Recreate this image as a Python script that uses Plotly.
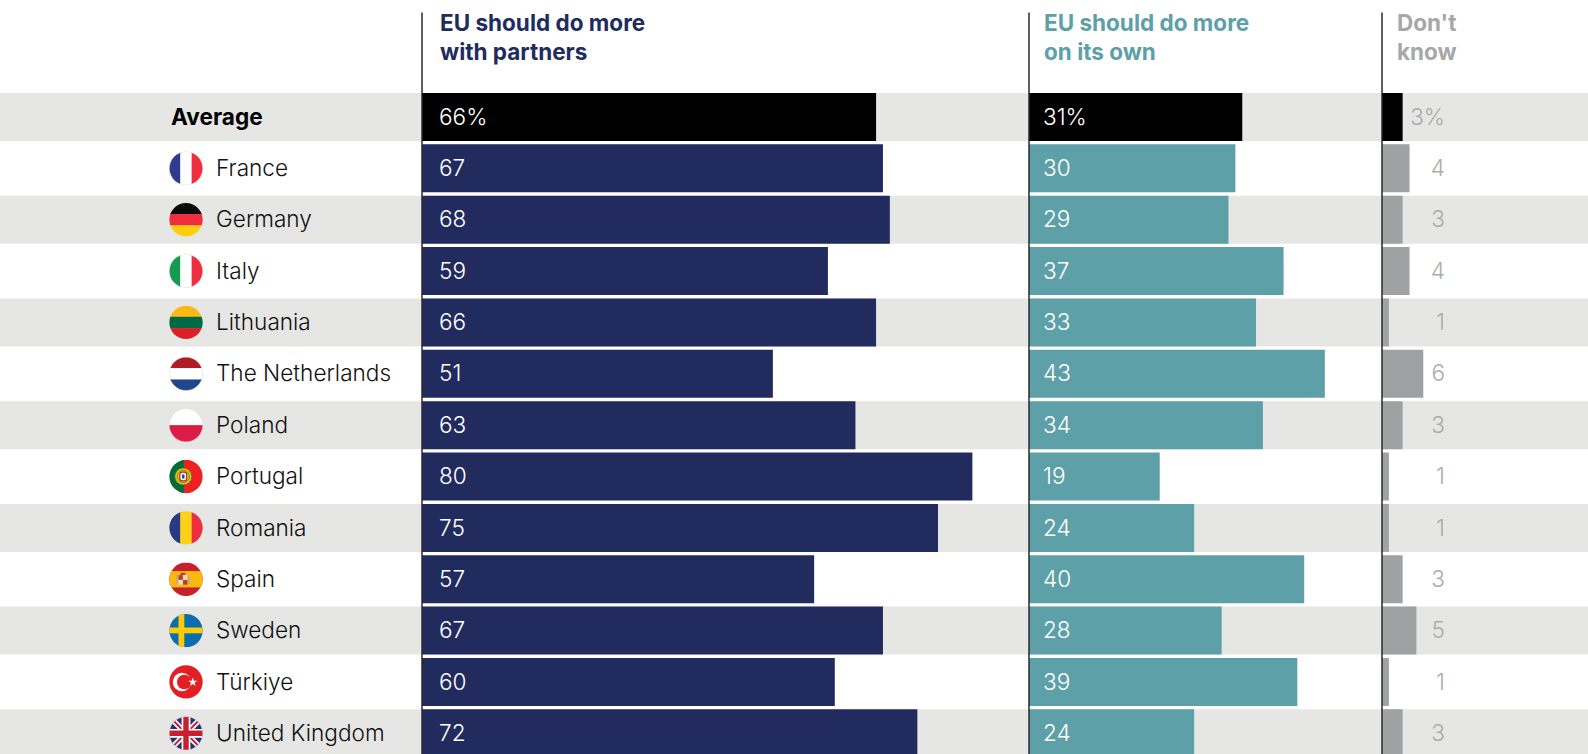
import base64
import plotly.graph_objects as go

# ---- data -------------------------------------------------------------
countries = ["Average", "France", "Germany", "Italy", "Lithuania", "The Netherlands", "Poland",
             "Portugal", "Romania", "Spain", "Sweden", "Türkiye", "United Kingdom"]
with_partners = [66, 67, 68, 59, 66, 51, 63, 80, 75, 57, 67, 60, 72]
on_its_own = [31, 30, 29, 37, 33, 43, 34, 19, 24, 40, 28, 39, 24]
dont_know = [3, 4, 3, 4, 1, 6, 3, 1, 1, 3, 5, 1, 3]
headers = ["EU should do more<br>with partners", "EU should do more<br>on its own", "Don't<br>know"]

# ---- layout constants (pixels of the 1588x754 page) -------------------
W, H = 1588, 754
FONT = "Inter"
TEXT_SIZE, HEAD_SIZE = 22.6, 22.5
NAVY, TEAL, GREY, BLACK = "#212B5E", "#5DA0A8", "#A0A1A3", "#000000"
BAND, LABEL_GREY, INK = "#E6E6E5", "#ABABAB", "#111111"
PX_PER_UNIT = 6.88
X1, X2, X3 = 422, 1029, 1382
ROW0, PITCH, BAR_H = 117, 51.36, 48
FLAG_D, FLAG_X = 34, 186
TEXT_DROP = 2.0

def svg_uri(body, outline="#D9D2CB"):
    svg = ('<svg xmlns="http://www.w3.org/2000/svg" viewBox="0 0 100 100" width="200" height="200">'
           '<defs><clipPath id="c"><circle cx="50" cy="50" r="49"/></clipPath></defs>'
           f'<g clip-path="url(#c)">{body}</g>'
           f'<circle cx="50" cy="50" r="49" fill="none" stroke="{outline}" stroke-width="1.2"/></svg>')
    return "data:image/svg+xml;base64," + base64.b64encode(svg.encode()).decode()

def vbands(a, b, c):
    return (f'<rect x="0" y="0" width="34" height="100" fill="{a}"/>'
            f'<rect x="33.3" y="0" width="34" height="100" fill="{b}"/>'
            f'<rect x="66.6" y="0" width="34" height="100" fill="{c}"/>')

def hbands(a, b, c):
    return (f'<rect x="0" y="0" width="100" height="34" fill="{a}"/>'
            f'<rect x="0" y="33.3" width="100" height="34" fill="{b}"/>'
            f'<rect x="0" y="66.6" width="100" height="34" fill="{c}"/>')

flags = {
    "France": svg_uri(vbands("#2E3B8E", "#FFFFFF", "#EE2E3C")),
    "Germany": svg_uri(hbands("#0A0A0A", "#EE2E3C", "#FFCC0E"), "none"),
    "Italy": svg_uri(vbands("#149A52", "#FFFFFF", "#EE2E3C")),
    "Lithuania": svg_uri(hbands("#FDB913", "#006A44", "#DC1F26"), "none"),
    "The Netherlands": svg_uri(hbands("#AE1C28", "#FFFFFF", "#21468B")),
    "Poland": svg_uri('<rect width="100" height="50" fill="#FFFFFF"/>'
                      '<rect y="50" width="100" height="50" fill="#DC1C44"/>', "#E8C4CC"),
    "Portugal": svg_uri('<rect width="44" height="100" fill="#046A38"/>'
                        '<rect x="44" width="56" height="100" fill="#EE2024"/>'
                        '<circle cx="42" cy="50" r="25" fill="#E2C21A" stroke="#3C7A2E" stroke-width="2"/>'
                        '<circle cx="42" cy="50" r="18" fill="none" stroke="#4E7A2A" stroke-width="2"/>'
                        '<rect x="32" y="37" width="20" height="26" rx="7" fill="#FFFFFF" stroke="#C8202A" stroke-width="3.5"/>'
                        '<rect x="38.5" y="44" width="7" height="12" fill="#27408B"/>', "none"),
    "Romania": svg_uri(vbands("#2A3A80", "#FCD116", "#EE2E3C"), "none"),
    "Spain": svg_uri('<rect width="100" height="100" fill="#C6202A"/>'
                     '<rect y="26" width="100" height="48" fill="#F9B90F"/>'
                     '<rect x="21" y="38" width="5" height="26" fill="#C9A68A"/>'
                     '<rect x="56" y="38" width="5" height="26" fill="#C9A68A"/>'
                     '<rect x="34" y="31" width="14" height="7" fill="#A8452F"/>'
                     '<rect x="28" y="38" width="13" height="14" fill="#B8402F"/>'
                     '<rect x="41" y="38" width="13" height="14" fill="#E6DCC8"/>'
                     '<rect x="28" y="52" width="13" height="14" fill="#E6DCC8"/>'
                     '<rect x="41" y="52" width="13" height="14" fill="#B8402F"/>', "none"),
    "Sweden": svg_uri('<rect width="100" height="100" fill="#0A6EAE"/>'
                      '<rect x="28" width="17" height="100" fill="#FECC00"/>'
                      '<rect y="41" width="100" height="17" fill="#FECC00"/>', "none"),
    "Türkiye": svg_uri('<rect width="100" height="100" fill="#E31E24"/>'
                       '<circle cx="38" cy="50" r="27" fill="#FFFFFF"/>'
                       '<circle cx="45" cy="50" r="21.5" fill="#E31E24"/>'
                       '<polygon fill="#FFFFFF" points="70,37 73.2,46.6 83.3,46.6 75.2,52.6 78.2,62.2 70,56.3 61.8,62.2 64.8,52.6 56.7,46.6 66.8,46.6"/>', "none"),
    "United Kingdom": svg_uri('<rect width="100" height="100" fill="#28306E"/>'
                              '<path d="M0 0L100 100M100 0L0 100" stroke="#FFFFFF" stroke-width="16"/>'
                              '<path d="M0 0L100 100M100 0L0 100" stroke="#C8202F" stroke-width="6"/>'
                              '<path d="M50 0V100M0 50H100" stroke="#FFFFFF" stroke-width="26"/>'
                              '<path d="M50 0V100M0 50H100" stroke="#C8202F" stroke-width="16"/>'),
}

# ---- figure -----------------------------------------------------------
fig = go.Figure()
bar_width = BAR_H / PITCH
y_range = [(H - ROW0) / PITCH, -ROW0 / PITCH]
text_y_range = [(H - ROW0 - TEXT_DROP) / PITCH, -(ROW0 + TEXT_DROP) / PITCH]

def add_panel(values, axis, colour, labels, label_x, label_pos, label_colours):
    fig.add_trace(go.Bar(y=countries, x=values, orientation="h", xaxis=axis, yaxis="y",
                         width=bar_width, marker=dict(color=[BLACK] + [colour] * (len(values) - 1), line_width=0),
                         showlegend=False, hoverinfo="skip"))
    fig.add_trace(go.Scatter(y=countries, x=[label_x] * len(values), xaxis=axis, yaxis="y2", mode="text",
                             text=labels, textposition=label_pos, cliponaxis=False, showlegend=False,
                             textfont=dict(family=FONT, size=TEXT_SIZE, weight=300, color=label_colours),
                             hoverinfo="skip"))

def fmt(values):
    return [f"{v}%" if i == 0 else str(v) for i, v in enumerate(values)]

add_panel(with_partners, "x", NAVY, fmt(with_partners), 17 / PX_PER_UNIT, "middle right", "#FFFFFF")
add_panel(on_its_own, "x2", TEAL, fmt(on_its_own), 14 / PX_PER_UNIT, "middle right", "#FFFFFF")
add_panel(dont_know, "x3", GREY, fmt(dont_know), 63 / PX_PER_UNIT, "middle left", LABEL_GREY)

# country names on a plain pixel-range axis left of the bars
fig.add_trace(go.Scatter(y=countries[1:], x=[216] * (len(countries) - 1), xaxis="x4", yaxis="y2", mode="text",
                         text=countries[1:], textposition="middle right", cliponaxis=False, showlegend=False,
                         textfont=dict(family=FONT, size=TEXT_SIZE, weight=300, color=INK), hoverinfo="skip"))
fig.add_trace(go.Scatter(y=countries[:1], x=[171], xaxis="x4", yaxis="y2", mode="text",
                         text=countries[:1], textposition="middle right", cliponaxis=False,
                         showlegend=False, textfont=dict(family=FONT, size=TEXT_SIZE, weight=700, color="#000000"),
                         hoverinfo="skip"))

shapes = []
for i in range(0, len(countries), 2):
    shapes.append(dict(type="rect", xref="paper", x0=0, x1=1, yref="y", y0=i - bar_width / 2, y1=i + bar_width / 2,
                       fillcolor=BAND, line_width=0, layer="below"))
for x_px in (X1, X2, X3):
    shapes.append(dict(type="line", xref="paper", x0=x_px / W, x1=x_px / W, yref="paper", y0=0, y1=1 - 12.5 / H,
                       line=dict(color="#2A2A2A", width=1.5), layer="above"))

images = [dict(source=flags[name], xref="paper", yref="y", x=FLAG_X / W, y=countries.index(name),
               sizex=FLAG_D / W, sizey=FLAG_D / PITCH, xanchor="center", yanchor="middle",
               sizing="contain", layer="above") for name in countries[1:]]

annotations = [dict(text=t, x=x / W, y=1 - 7 / H, xref="paper", yref="paper", xanchor="left",
                    yanchor="top", align="left", showarrow=False,
                    font=dict(family=FONT, size=HEAD_SIZE, weight=700, color=c))
               for t, x, c in zip(headers, (438, 1041.5, 1395), (NAVY, TEAL, "#A6A7A9"))]

hidden = dict(visible=False, fixedrange=True)
cat_axis = dict(domain=[0, 1], type="category", categoryorder="array", categoryarray=countries, **hidden)
fig.update_layout(
    width=W, height=H, margin=dict(l=0, r=0, t=0, b=0, pad=0, autoexpand=False),
    paper_bgcolor="#FFFFFF", plot_bgcolor="rgba(0,0,0,0)", showlegend=False,
    xaxis=dict(domain=[X1 / W, X2 / W], range=[0, (X2 - X1) / PX_PER_UNIT], anchor="y", **hidden),
    xaxis2=dict(domain=[X2 / W, X3 / W], range=[0, (X3 - X2) / PX_PER_UNIT], anchor="y", **hidden),
    xaxis3=dict(domain=[X3 / W, 1], range=[0, (W - X3) / PX_PER_UNIT], anchor="y", **hidden),
    xaxis4=dict(domain=[0, X1 / W], range=[0, X1], anchor="y", **hidden),
    yaxis=dict(range=y_range, **cat_axis),
    yaxis2=dict(range=text_y_range, overlaying="y", **cat_axis),
    shapes=shapes, images=images, annotations=annotations,
)

fig.write_html("out.html", config={"displayModeBar": False},
               post_script="document.body.style.margin='0';document.body.style.overflow='hidden';")
